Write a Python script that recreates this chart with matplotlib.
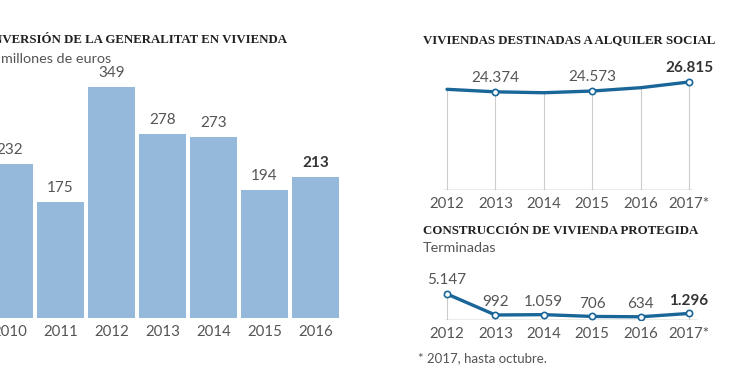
import matplotlib
matplotlib.use("Agg")
import matplotlib.pyplot as plt

# Inversion (millones de euros)
inv_years = ['2010', '2011', '2012', '2013', '2014', '2015', '2016']
inv_values = [232, 175, 349, 278, 273, 194, 213]

# Viviendas destinadas a alquiler social
line_years = ['2012', '2013', '2014', '2015', '2016', '2017*']
alquiler = [25000, 24374, 24150, 24573, 25400, 26815]
alquiler_labels = [None, '24.374', None, '24.573', None, '26.815']

# Construccion de vivienda protegida (terminadas)
protegida = [5147, 992, 1059, 706, 634, 1296]
protegida_labels = ['5.147', '992', '1.059', '706', '634', '1.296']

W, H = 740, 389
BAR = '#94b9da'
BLUE = '#1a6699'
GREY = '#555555'
DARK = '#333333'
GRID = '#cccccc'
SANS = 'Lato'
SERIF = 'Liberation Serif'

fig = plt.figure(figsize=(W / 100, H / 100), dpi=100)


def px_axes(x0, y0, x1, y1):
    # pixel box (top-left origin) -> figure axes
    return fig.add_axes([x0 / W, 1 - y1 / H, (x1 - x0) / W, (y1 - y0) / H])


def clean(ax):
    for s in ax.spines.values():
        s.set_visible(False)
    ax.set_yticks([])
    ax.tick_params(axis='x', length=0, pad=5, labelsize=10.8, labelcolor=GREY)
    for t in ax.get_xticklabels():
        t.set_fontfamily(SANS)


# ---- left: bars ----
ax1 = px_axes(0, 70, 345, 318)
xs = list(range(len(inv_years)))
ax1.bar(xs, inv_values, width=0.92, color=BAR)
ax1.set_xlim((0 - 9.5) / 51, (345 - 9.5) / 51)
ax1.set_ylim(0, 248 / 0.662)
ax1.set_xticks(xs)
ax1.set_xticklabels(inv_years)
clean(ax1)
for i, v in enumerate(inv_values):
    last = i == len(inv_values) - 1
    ax1.annotate(str(v), (i, v), xytext=(0, 5), textcoords='offset points',
                 ha='center', va='bottom', fontsize=11, family=SANS,
                 color=DARK if last else GREY,
                 fontweight='bold' if last else 'normal')

fig.text(287 / W, 1 - 40 / H, 'INVERSIÓN DE LA GENERALITAT EN VIVIENDA',
         ha='right', va='center', family=SERIF, fontweight='bold',
         fontsize=9.3, color='#222222')
fig.text(111 / W, 1 - 59 / H, 'En millones de euros', ha='right', va='center',
         family=SANS, fontsize=10.4, color=GREY)

# ---- right top: alquiler social ----
lx = list(range(len(line_years)))
xlim = ((430 - 447) / 48.4, (710 - 447) / 48.4)

ax2 = px_axes(430, 60, 710, 190)
ax2.set_xlim(*xlim)
ax2.set_ylim(0, 130 / (108 / 26815))
ax2.vlines(lx, 0, alquiler, color=GRID, lw=0.8)
ax2.hlines(0, -0.09, 5.07, color='#999999', lw=1)
ax2.plot(lx, alquiler, color=BLUE, lw=2.4, solid_capstyle='round', zorder=3)
mk = [i for i, l in enumerate(alquiler_labels) if l]
ax2.plot(mk, [alquiler[i] for i in mk], 'o', ms=4.5, mfc='white', mec=BLUE,
         mew=1.2, zorder=4)
ax2.set_xticks(lx)
ax2.set_xticklabels(line_years)
clean(ax2)
for i, l in enumerate(alquiler_labels):
    if l is None:
        continue
    last = i == len(alquiler_labels) - 1
    ax2.annotate(l, (i, alquiler[i]), xytext=(0, 5), textcoords='offset points',
                 ha='center', va='bottom', fontsize=11, family=SANS,
                 color=DARK if last else GREY,
                 fontweight='bold' if last else 'normal')

fig.text(423 / W, 1 - 40 / H, 'VIVIENDAS DESTINADAS A ALQUILER SOCIAL',
         ha='left', va='center', family=SERIF, fontweight='bold',
         fontsize=9.3, color='#222222')

# ---- right bottom: vivienda protegida ----
ax3 = px_axes(430, 270, 710, 320)
ax3.set_xlim(*xlim)
ax3.set_ylim(0, 50 / (26 / 5147))
ax3.vlines(lx, 0, protegida, color=GRID, lw=0.8)
ax3.hlines(0, -0.05, 5.17, color='#999999', lw=1)
ax3.plot(lx, protegida, color=BLUE, lw=2.4, solid_capstyle='round', zorder=3)
ax3.plot(lx, protegida, 'o', ms=4.5, mfc='white', mec=BLUE, mew=1.2, zorder=4)
ax3.set_xticks(lx)
ax3.set_xticklabels(line_years)
clean(ax3)
for i, l in enumerate(protegida_labels):
    last = i == len(protegida_labels) - 1
    ax3.annotate(l, (i, protegida[i]), xytext=(0, 5 if i == 0 else 4),
                 textcoords='offset points',
                 ha='center', va='bottom', fontsize=11, family=SANS,
                 color=DARK if last else GREY,
                 fontweight='bold' if last else 'normal')

fig.text(423 / W, 1 - 231 / H, 'CONSTRUCCIÓN DE VIVIENDA PROTEGIDA',
         ha='left', va='center', family=SERIF, fontweight='bold',
         fontsize=9.3, color='#222222')
fig.text(423 / W, 1 - 248 / H, 'Terminadas', ha='left', va='center',
         family=SANS, fontsize=10.4, color=GREY)
fig.text(418 / W, 1 - 358 / H, '* 2017, hasta octubre.', ha='left',
         va='center', family=SANS, fontsize=9.5, color=GREY)

fig.savefig('out.png', dpi=100)
